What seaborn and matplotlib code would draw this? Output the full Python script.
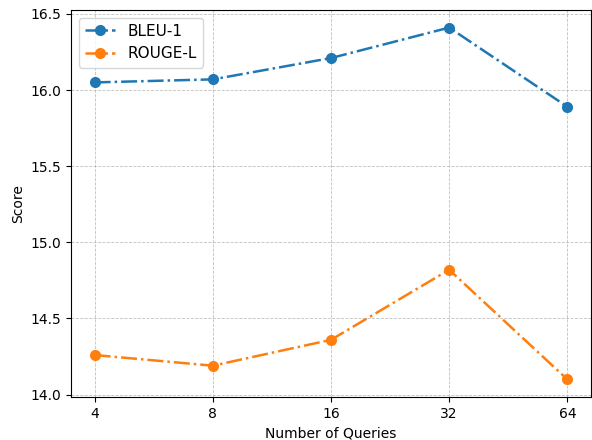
import pandas as pd
import seaborn as sns
import matplotlib.pyplot as plt

# Dados
queries = ["4", "8", "16", "32", "64"]
bleu1 = [16.05, 16.07, 16.21, 16.41, 15.89]
rougel = [14.26, 14.19, 14.36, 14.82, 14.10]

df = pd.DataFrame({
    "pos": list(range(len(queries))) * 2,
    "Score": bleu1 + rougel,
    "Metric": ["BLEU-1"] * len(queries) + ["ROUGE-L"] * len(queries),
})

fig, ax = plt.subplots(figsize=(5.92, 4.40), dpi=100)
fig.subplots_adjust(left=71 / 592, right=591 / 592, top=1 - 10 / 440, bottom=1 - 397 / 440)
palette = {"BLEU-1": "#1f77b4", "ROUGE-L": "#ff7f0e"}
for metric in ["BLEU-1", "ROUGE-L"]:
    sub = df[df["Metric"] == metric]
    sns.lineplot(data=sub, x="pos", y="Score", ax=ax, color=palette[metric],
                 marker="o", markersize=8, markeredgewidth=0, linestyle="-.",
                 linewidth=1.8, label=metric)

ax.set_xticks(range(len(queries)))
ax.set_xticklabels(queries)
ax.set_xlabel("Number of Queries")
ax.set_ylabel("Score")
ax.grid(True, linestyle="--", linewidth=0.6, color="#b0b0b0", alpha=0.8)
ax.legend(loc="upper left", fontsize=11)
plt.savefig("out.png", dpi=100)
